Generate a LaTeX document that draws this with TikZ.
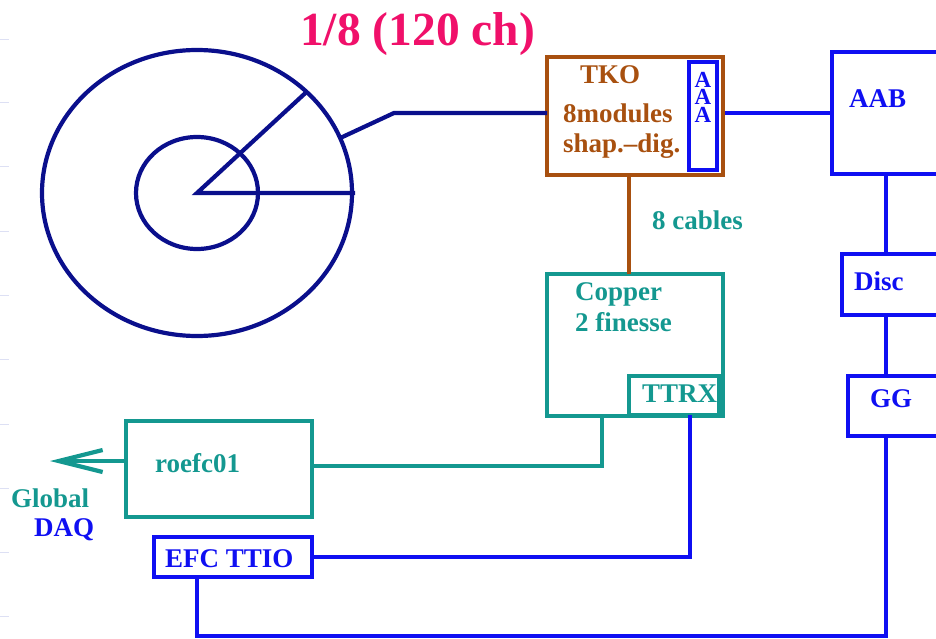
\documentclass[tikz,border=0pt]{standalone}
\usepackage{fontspec}
\setmainfont{Liberation Serif}
\usetikzlibrary{arrows.meta,shapes.geometric}
\definecolor{wheelblue}{HTML}{0A0F8C}
\definecolor{linkblue}{HTML}{0F0FF2}
\definecolor{tealbox}{HTML}{149890}
\definecolor{tkobrown}{HTML}{A8500F}
\definecolor{titlepink}{HTML}{F0106A}
\definecolor{tickgrey}{HTML}{DDE0F4}

\begin{document}
\begin{tikzpicture}[
    x=1pt, y=-1pt,
    box/.style={draw=#1, line width=4.2pt, outer sep=0pt, inner sep=0pt},
    wheel/.style={draw=wheelblue, line width=4.2pt, ellipse, outer sep=0pt, inner sep=0pt},
    lbl/.style={text=#1, anchor=base west, inner sep=0pt,
                font=\fontsize{27}{30}\selectfont\bfseries}
]
    \clip (0,0) rectangle (936,639);

    % Ticks on the left edge
    \foreach \y in {40,103,167,231,295,359,424,488,552,616} {
        \draw[tickgrey, line width=1pt] (0,\y) -- (9,\y);
    }

    % Wheel
    \node[wheel, minimum width=310pt, minimum height=286pt] (outer) at (197,193) {};
    \node[wheel, minimum width=122pt, minimum height=112pt] (inner) at (197,193) {};
    \coordinate (hub) at (197,193);
    \draw[wheelblue, line width=4.2pt] (outer.north east) -- (hub) -- ([xshift=3pt]outer.east);

    % Boxes
    \node[box=tkobrown, minimum width=176pt, minimum height=118pt] (tko) at (635,116) {};
    \node[box=linkblue, minimum width=28pt, minimum height=108pt] (aaa) at (703,116) {};
    \node[box=tealbox, minimum width=176pt, minimum height=142pt] (copper) at (635,345) {};
    \node[box=tealbox, minimum width=90pt, minimum height=39pt] (ttrx) at (674,395.5) {};
    \node[box=tealbox, minimum width=186pt, minimum height=96pt] (roefc) at (219,469) {};
    \node[box=linkblue, minimum width=158pt, minimum height=40pt] (efc) at (233,557) {};
    \node[box=linkblue, minimum width=168pt, minimum height=122pt] (aab) at (916,113) {};
    \node[box=linkblue, minimum width=158pt, minimum height=61pt] (disc) at (921,284.5) {};
    \node[box=linkblue, minimum width=152pt, minimum height=60pt] (gg) at (924,406) {};

    % Helper coordinates
    \coordinate (busx) at (886,0);
    \coordinate (tkoin) at (394,113);
    \coordinate (copperx) at (602,0);
    \coordinate (ttrxx) at (690,0);
    \coordinate (efcx) at (197,0);
    \coordinate (roefcy) at (0,466);
    \coordinate (busy) at (0,636);
    \coordinate (daq) at (50,461);

    % Connectors
    \draw[wheelblue, line width=4.2pt] (outer.21) -- (tkoin) -- (tkoin -| tko.west);
    \draw[linkblue, line width=4.2pt] ([xshift=2pt]tko.east |- 0,113) -- (aab.west |- 0,113);
    \draw[tkobrown, line width=4.2pt] (tko.south -| ttrx.west) -- (copper.north -| ttrx.west);
    \draw[linkblue, line width=4.2pt] (aab.south -| busx) -- (disc.north -| busx);
    \draw[linkblue, line width=4.2pt] (disc.south -| busx) -- (gg.north -| busx);
    \draw[linkblue, line width=4.2pt] (gg.south -| busx) -- (busy -| busx) -- (busy -| efcx) -- (efc.south -| efcx);
    \draw[linkblue, line width=4.2pt] (ttrx.south -| ttrxx) -- (efc.east -| ttrxx) -- (efc.east);
    \draw[tealbox, line width=4.2pt] (copper.south -| copperx) -- (roefcy -| copperx) -- (roefcy -| roefc.east);
    \draw[tealbox, line width=4.2pt, -{Straight Barb[length=44pt, width=22pt]}] (roefc.west |- daq) -- (daq);

    % Labels
    \node[lbl=titlepink, font=\fontsize{47.5}{50}\selectfont\bfseries] (title) at (300,46) {1/8 (120 ch)};
    \node[lbl=tkobrown] (tkotext) at (580,84) {TKO};
    \node[lbl=tkobrown] (modtext) at (563,123) {8modules};
    \node[lbl=tkobrown] (shaptext) at (563,153) {shap.--dig.};
    \node[text=linkblue, inner sep=0pt, align=center, anchor=north,
          font=\fontsize{23}{17.5}\selectfont\bfseries] (aaatext) at (703,72) {A\\A\\A};
    \node[lbl=tealbox] (cabletext) at (652,229) {8 cables};
    \node[lbl=tealbox] (coppertext) at (575,300) {Copper};
    \node[lbl=tealbox] (finesse) at (575,331) {2 finesse};
    \node[lbl=tealbox] (ttrxtext) at (642,402) {TTRX};
    \node[lbl=tealbox] (roefctext) at (155,472) {roefc01};
    \node[lbl=tealbox] (global) at (11,507) {Global};
    \node[lbl=linkblue] (daqtext) at (34,536) {DAQ};
    \node[lbl=linkblue] (efctext) at (165,567) {EFC TTIO};
    \node[lbl=linkblue] (aabtext) at (849,108) {AAB};
    \node[lbl=linkblue] (disctext) at (854,290) {Disc};
    \node[lbl=linkblue] (ggtext) at (870,407) {GG};
\end{tikzpicture}
\end{document}
